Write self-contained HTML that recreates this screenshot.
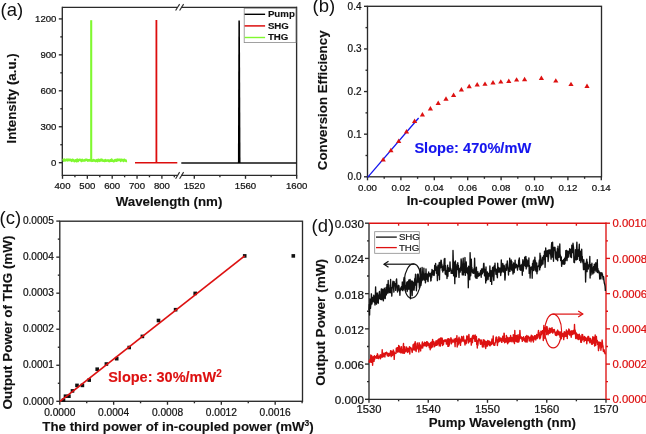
<!DOCTYPE html>
<html><head><meta charset="utf-8"><style>
html,body{margin:0;padding:0;background:#fff;overflow:hidden}
svg{display:block;filter:blur(0.35px)}
text{font-family:"Liberation Sans", sans-serif}
</style></head><body>
<svg width="646" height="434" viewBox="0 0 646 434">
<rect width="646" height="434" fill="#fff"/>
<line x1="62.30" y1="6.70" x2="62.30" y2="175.90" stroke="#2a2a2a" stroke-width="1.35" />
<line x1="296.60" y1="6.70" x2="296.60" y2="175.90" stroke="#2a2a2a" stroke-width="1.35" />
<line x1="62.30" y1="7.30" x2="177.20" y2="7.30" stroke="#2a2a2a" stroke-width="1.35" />
<line x1="181.20" y1="7.30" x2="296.60" y2="7.30" stroke="#2a2a2a" stroke-width="1.35" />
<line x1="62.30" y1="175.30" x2="177.20" y2="175.30" stroke="#2a2a2a" stroke-width="1.35" />
<line x1="181.20" y1="175.30" x2="296.60" y2="175.30" stroke="#2a2a2a" stroke-width="1.35" />
<line x1="175.60" y1="10.50" x2="179.60" y2="4.10" stroke="#2a2a2a" stroke-width="1.1" />
<line x1="175.60" y1="178.70" x2="179.60" y2="172.10" stroke="#2a2a2a" stroke-width="1.1" />
<line x1="179.60" y1="10.50" x2="183.60" y2="4.10" stroke="#2a2a2a" stroke-width="1.1" />
<line x1="179.60" y1="178.70" x2="183.60" y2="172.10" stroke="#2a2a2a" stroke-width="1.1" />
<line x1="58.80" y1="162.70" x2="62.30" y2="162.70" stroke="#2a2a2a" stroke-width="1.35" />
<text x="56.40" y="166.20" font-size="9.6" text-anchor="end" font-weight="normal" fill="#111" stroke="#111" stroke-width="0.22" >0</text>
<line x1="58.80" y1="126.75" x2="62.30" y2="126.75" stroke="#2a2a2a" stroke-width="1.35" />
<text x="56.40" y="130.25" font-size="9.6" text-anchor="end" font-weight="normal" fill="#111" stroke="#111" stroke-width="0.22" >300</text>
<line x1="58.80" y1="90.80" x2="62.30" y2="90.80" stroke="#2a2a2a" stroke-width="1.35" />
<text x="56.40" y="94.30" font-size="9.6" text-anchor="end" font-weight="normal" fill="#111" stroke="#111" stroke-width="0.22" >600</text>
<line x1="58.80" y1="54.85" x2="62.30" y2="54.85" stroke="#2a2a2a" stroke-width="1.35" />
<text x="56.40" y="58.35" font-size="9.6" text-anchor="end" font-weight="normal" fill="#111" stroke="#111" stroke-width="0.22" >900</text>
<line x1="58.80" y1="18.90" x2="62.30" y2="18.90" stroke="#2a2a2a" stroke-width="1.35" />
<text x="56.40" y="22.40" font-size="9.6" text-anchor="end" font-weight="normal" fill="#111" stroke="#111" stroke-width="0.22" >1200</text>
<line x1="60.30" y1="144.72" x2="62.30" y2="144.72" stroke="#2a2a2a" stroke-width="1.35" />
<line x1="60.30" y1="108.77" x2="62.30" y2="108.77" stroke="#2a2a2a" stroke-width="1.35" />
<line x1="60.30" y1="72.82" x2="62.30" y2="72.82" stroke="#2a2a2a" stroke-width="1.35" />
<line x1="60.30" y1="36.87" x2="62.30" y2="36.87" stroke="#2a2a2a" stroke-width="1.35" />
<line x1="62.50" y1="175.30" x2="62.50" y2="178.80" stroke="#2a2a2a" stroke-width="1.35" />
<text x="62.50" y="188.50" font-size="9.6" text-anchor="middle" font-weight="normal" fill="#111" stroke="#111" stroke-width="0.22" >400</text>
<line x1="87.35" y1="175.30" x2="87.35" y2="178.80" stroke="#2a2a2a" stroke-width="1.35" />
<text x="87.35" y="188.50" font-size="9.6" text-anchor="middle" font-weight="normal" fill="#111" stroke="#111" stroke-width="0.22" >500</text>
<line x1="112.20" y1="175.30" x2="112.20" y2="178.80" stroke="#2a2a2a" stroke-width="1.35" />
<text x="112.20" y="188.50" font-size="9.6" text-anchor="middle" font-weight="normal" fill="#111" stroke="#111" stroke-width="0.22" >600</text>
<line x1="137.05" y1="175.30" x2="137.05" y2="178.80" stroke="#2a2a2a" stroke-width="1.35" />
<text x="137.05" y="188.50" font-size="9.6" text-anchor="middle" font-weight="normal" fill="#111" stroke="#111" stroke-width="0.22" >700</text>
<line x1="161.90" y1="175.30" x2="161.90" y2="178.80" stroke="#2a2a2a" stroke-width="1.35" />
<text x="161.90" y="188.50" font-size="9.6" text-anchor="middle" font-weight="normal" fill="#111" stroke="#111" stroke-width="0.22" >800</text>
<line x1="74.92" y1="175.30" x2="74.92" y2="177.30" stroke="#2a2a2a" stroke-width="1.35" />
<line x1="99.78" y1="175.30" x2="99.78" y2="177.30" stroke="#2a2a2a" stroke-width="1.35" />
<line x1="124.62" y1="175.30" x2="124.62" y2="177.30" stroke="#2a2a2a" stroke-width="1.35" />
<line x1="149.47" y1="175.30" x2="149.47" y2="177.30" stroke="#2a2a2a" stroke-width="1.35" />
<line x1="174.32" y1="175.30" x2="174.32" y2="177.30" stroke="#2a2a2a" stroke-width="1.35" />
<line x1="194.30" y1="175.30" x2="194.30" y2="178.80" stroke="#2a2a2a" stroke-width="1.35" />
<text x="194.30" y="188.50" font-size="9.6" text-anchor="middle" font-weight="normal" fill="#111" stroke="#111" stroke-width="0.22" >1520</text>
<line x1="245.50" y1="175.30" x2="245.50" y2="178.80" stroke="#2a2a2a" stroke-width="1.35" />
<text x="245.50" y="188.50" font-size="9.6" text-anchor="middle" font-weight="normal" fill="#111" stroke="#111" stroke-width="0.22" >1560</text>
<line x1="296.70" y1="175.30" x2="296.70" y2="178.80" stroke="#2a2a2a" stroke-width="1.35" />
<text x="296.70" y="188.50" font-size="9.6" text-anchor="middle" font-weight="normal" fill="#111" stroke="#111" stroke-width="0.22" >1600</text>
<line x1="219.90" y1="175.30" x2="219.90" y2="177.30" stroke="#2a2a2a" stroke-width="1.35" />
<line x1="271.10" y1="175.30" x2="271.10" y2="177.30" stroke="#2a2a2a" stroke-width="1.35" />
<polyline points="62.60,160.08 63.30,159.77 64.00,160.67 64.70,159.63 65.40,160.46 66.10,160.16 66.80,159.60 67.50,160.41 68.20,159.57 68.90,160.28 69.60,159.63 70.30,159.66 71.00,160.26 71.70,160.99 72.40,159.72 73.10,159.90 73.80,160.63 74.50,161.21 75.20,160.54 75.90,160.21 76.60,161.26 77.30,159.58 78.00,161.05 78.70,160.02 79.40,159.76 80.10,159.71 80.80,160.06 81.50,160.97 82.20,159.83 82.90,160.55 83.60,160.65 84.30,160.17 85.00,160.49 85.70,159.61 86.40,159.61 87.10,159.87 87.80,160.72 88.50,160.27 89.20,160.07 89.90,160.55 90.60,160.32 91.30,160.04 92.00,160.93 92.70,160.76 93.40,159.94 94.10,160.53 94.80,160.45 95.50,161.08 96.20,160.81 96.90,160.02 97.60,161.26 98.30,159.71 99.00,160.25 99.70,160.86 100.40,159.77 101.10,160.38 101.80,159.57 102.50,160.70 103.20,160.88 103.90,160.53 104.60,161.08 105.30,160.06 106.00,160.75 106.70,160.57 107.40,160.54 108.10,160.32 108.80,161.01 109.50,161.20 110.20,160.35 110.90,160.70 111.60,159.61 112.30,160.76 113.00,160.66 113.70,161.29 114.40,160.98 115.10,160.01 115.80,160.19 116.50,160.70 117.20,159.54 117.90,160.33 118.60,159.80 119.30,159.71 120.00,159.61 120.70,160.88 121.40,159.73 122.10,159.95 122.80,160.20 123.50,161.07 124.20,159.65 124.90,160.31 125.60,160.49 126.30,161.09 127.00,160.97" fill="none" stroke="#80f830" stroke-width="2.4" stroke-linejoin="round" />
<line x1="91.20" y1="160.50" x2="91.20" y2="20.20" stroke="#80f830" stroke-width="2.1" />
<line x1="135.00" y1="162.80" x2="177.30" y2="162.80" stroke="#dc0d0d" stroke-width="1.5" />
<line x1="156.40" y1="162.80" x2="156.40" y2="20.00" stroke="#dc0d0d" stroke-width="1.8" />
<line x1="181.30" y1="163.00" x2="296.50" y2="163.00" stroke="#111" stroke-width="1.5" />
<polygon points="237.9,163 238.4,20.6 239.9,20.6 240.5,163" fill="#000"/>
<rect x="244.2" y="8.3" width="51.7" height="34.3" fill="#fff" stroke="#8a8a8a" stroke-width="0.8"/>
<line x1="244.60" y1="14.30" x2="265.10" y2="14.30" stroke="#000" stroke-width="1.4" />
<line x1="244.60" y1="25.90" x2="265.10" y2="25.90" stroke="#dc0d0d" stroke-width="1.5" />
<line x1="244.60" y1="37.50" x2="265.10" y2="37.50" stroke="#80f830" stroke-width="1.4" />
<text x="267.90" y="17.10" font-size="9.7" text-anchor="start" font-weight="bold" fill="#111" stroke="#111" stroke-width="0.12" >Pump</text>
<text x="267.90" y="28.80" font-size="9.7" text-anchor="start" font-weight="bold" fill="#111" stroke="#111" stroke-width="0.12" >SHG</text>
<text x="267.90" y="40.40" font-size="9.7" text-anchor="start" font-weight="bold" fill="#111" stroke="#111" stroke-width="0.12" >THG</text>
<text transform="translate(11.00,98.40) rotate(-90)" x="0" y="4.66" font-size="13.3" text-anchor="middle" font-weight="bold" fill="#111" stroke="#111" stroke-width="0.12">Intensity (a.u.)</text>
<text x="169.00" y="206.00" font-size="13.3" text-anchor="middle" font-weight="bold" fill="#111" stroke="#111" stroke-width="0.12" >Wavelength (nm)</text>
<text x="0.50" y="15.50" font-size="18.5" text-anchor="start" font-weight="normal" fill="#111" stroke="#111" stroke-width="0" >(a)</text>
<rect x="367.5" y="6.3" width="234.0" height="170.5" fill="none" stroke="#2a2a2a" stroke-width="1.35"/>
<line x1="364.00" y1="176.80" x2="367.50" y2="176.80" stroke="#2a2a2a" stroke-width="1.35" />
<text x="361.50" y="180.30" font-size="10" text-anchor="end" font-weight="normal" fill="#111" stroke="#111" stroke-width="0.22" >0.0</text>
<line x1="364.00" y1="134.18" x2="367.50" y2="134.18" stroke="#2a2a2a" stroke-width="1.35" />
<text x="361.50" y="137.68" font-size="10" text-anchor="end" font-weight="normal" fill="#111" stroke="#111" stroke-width="0.22" >0.1</text>
<line x1="364.00" y1="91.55" x2="367.50" y2="91.55" stroke="#2a2a2a" stroke-width="1.35" />
<text x="361.50" y="95.05" font-size="10" text-anchor="end" font-weight="normal" fill="#111" stroke="#111" stroke-width="0.22" >0.2</text>
<line x1="364.00" y1="48.93" x2="367.50" y2="48.93" stroke="#2a2a2a" stroke-width="1.35" />
<text x="361.50" y="52.43" font-size="10" text-anchor="end" font-weight="normal" fill="#111" stroke="#111" stroke-width="0.22" >0.3</text>
<line x1="364.00" y1="6.30" x2="367.50" y2="6.30" stroke="#2a2a2a" stroke-width="1.35" />
<text x="361.50" y="9.80" font-size="10" text-anchor="end" font-weight="normal" fill="#111" stroke="#111" stroke-width="0.22" >0.4</text>
<line x1="365.50" y1="155.49" x2="367.50" y2="155.49" stroke="#2a2a2a" stroke-width="1.35" />
<line x1="365.50" y1="112.86" x2="367.50" y2="112.86" stroke="#2a2a2a" stroke-width="1.35" />
<line x1="365.50" y1="70.24" x2="367.50" y2="70.24" stroke="#2a2a2a" stroke-width="1.35" />
<line x1="365.50" y1="27.61" x2="367.50" y2="27.61" stroke="#2a2a2a" stroke-width="1.35" />
<line x1="367.50" y1="176.80" x2="367.50" y2="180.30" stroke="#2a2a2a" stroke-width="1.35" />
<text x="367.50" y="191.00" font-size="9.7" text-anchor="middle" font-weight="normal" fill="#111" stroke="#111" stroke-width="0.22" >0.00</text>
<line x1="400.90" y1="176.80" x2="400.90" y2="180.30" stroke="#2a2a2a" stroke-width="1.35" />
<text x="400.90" y="191.00" font-size="9.7" text-anchor="middle" font-weight="normal" fill="#111" stroke="#111" stroke-width="0.22" >0.02</text>
<line x1="434.30" y1="176.80" x2="434.30" y2="180.30" stroke="#2a2a2a" stroke-width="1.35" />
<text x="434.30" y="191.00" font-size="9.7" text-anchor="middle" font-weight="normal" fill="#111" stroke="#111" stroke-width="0.22" >0.04</text>
<line x1="467.70" y1="176.80" x2="467.70" y2="180.30" stroke="#2a2a2a" stroke-width="1.35" />
<text x="467.70" y="191.00" font-size="9.7" text-anchor="middle" font-weight="normal" fill="#111" stroke="#111" stroke-width="0.22" >0.06</text>
<line x1="501.10" y1="176.80" x2="501.10" y2="180.30" stroke="#2a2a2a" stroke-width="1.35" />
<text x="501.10" y="191.00" font-size="9.7" text-anchor="middle" font-weight="normal" fill="#111" stroke="#111" stroke-width="0.22" >0.08</text>
<line x1="534.50" y1="176.80" x2="534.50" y2="180.30" stroke="#2a2a2a" stroke-width="1.35" />
<text x="534.50" y="191.00" font-size="9.7" text-anchor="middle" font-weight="normal" fill="#111" stroke="#111" stroke-width="0.22" >0.10</text>
<line x1="567.90" y1="176.80" x2="567.90" y2="180.30" stroke="#2a2a2a" stroke-width="1.35" />
<text x="567.90" y="191.00" font-size="9.7" text-anchor="middle" font-weight="normal" fill="#111" stroke="#111" stroke-width="0.22" >0.12</text>
<line x1="601.30" y1="176.80" x2="601.30" y2="180.30" stroke="#2a2a2a" stroke-width="1.35" />
<text x="601.30" y="191.00" font-size="9.7" text-anchor="middle" font-weight="normal" fill="#111" stroke="#111" stroke-width="0.22" >0.14</text>
<line x1="384.20" y1="176.80" x2="384.20" y2="178.80" stroke="#2a2a2a" stroke-width="1.35" />
<line x1="417.60" y1="176.80" x2="417.60" y2="178.80" stroke="#2a2a2a" stroke-width="1.35" />
<line x1="451.00" y1="176.80" x2="451.00" y2="178.80" stroke="#2a2a2a" stroke-width="1.35" />
<line x1="484.40" y1="176.80" x2="484.40" y2="178.80" stroke="#2a2a2a" stroke-width="1.35" />
<line x1="517.80" y1="176.80" x2="517.80" y2="178.80" stroke="#2a2a2a" stroke-width="1.35" />
<line x1="551.20" y1="176.80" x2="551.20" y2="178.80" stroke="#2a2a2a" stroke-width="1.35" />
<line x1="584.60" y1="176.80" x2="584.60" y2="178.80" stroke="#2a2a2a" stroke-width="1.35" />
<line x1="367.60" y1="177.40" x2="418.60" y2="118.00" stroke="#1515ee" stroke-width="1.3" />
<polygon points="380.60,161.40 385.80,161.40 383.20,157.00" fill="#dd1111"/>
<polygon points="388.30,152.20 393.50,152.20 390.90,147.80" fill="#dd1111"/>
<polygon points="396.10,142.90 401.30,142.90 398.70,138.50" fill="#dd1111"/>
<polygon points="403.90,133.40 409.10,133.40 406.50,129.00" fill="#dd1111"/>
<polygon points="412.00,123.00 417.20,123.00 414.60,118.60" fill="#dd1111"/>
<polygon points="419.80,116.50 425.00,116.50 422.40,112.10" fill="#dd1111"/>
<polygon points="427.80,110.50 433.00,110.50 430.40,106.10" fill="#dd1111"/>
<polygon points="435.60,105.00 440.80,105.00 438.20,100.60" fill="#dd1111"/>
<polygon points="443.40,100.70 448.60,100.70 446.00,96.30" fill="#dd1111"/>
<polygon points="451.00,97.00 456.20,97.00 453.60,92.60" fill="#dd1111"/>
<polygon points="458.80,91.40 464.00,91.40 461.40,87.00" fill="#dd1111"/>
<polygon points="466.60,88.20 471.80,88.20 469.20,83.80" fill="#dd1111"/>
<polygon points="474.60,86.40 479.80,86.40 477.20,82.00" fill="#dd1111"/>
<polygon points="482.40,85.80 487.60,85.80 485.00,81.40" fill="#dd1111"/>
<polygon points="490.40,84.50 495.60,84.50 493.00,80.10" fill="#dd1111"/>
<polygon points="498.20,83.60 503.40,83.60 500.80,79.20" fill="#dd1111"/>
<polygon points="506.20,83.00 511.40,83.00 508.80,78.60" fill="#dd1111"/>
<polygon points="514.00,81.60 519.20,81.60 516.60,77.20" fill="#dd1111"/>
<polygon points="522.00,81.20 527.20,81.20 524.60,76.80" fill="#dd1111"/>
<polygon points="538.80,80.00 544.00,80.00 541.40,75.60" fill="#dd1111"/>
<polygon points="553.20,82.60 558.40,82.60 555.80,78.20" fill="#dd1111"/>
<polygon points="568.40,86.10 573.60,86.10 571.00,81.70" fill="#dd1111"/>
<polygon points="584.40,88.00 589.60,88.00 587.00,83.60" fill="#dd1111"/>
<text x="414.40" y="153.40" font-size="14.6" text-anchor="start" font-weight="bold" fill="#1515ee" stroke="#1515ee" stroke-width="0.12" >Slope: 470%/mW</text>
<text transform="translate(322.60,100.30) rotate(-90)" x="0" y="4.66" font-size="13.3" text-anchor="middle" font-weight="bold" fill="#111" stroke="#111" stroke-width="0.12">Conversion Efficiency</text>
<text x="480.50" y="204.60" font-size="13.3" text-anchor="middle" font-weight="bold" fill="#111" stroke="#111" stroke-width="0.12" >In-coupled Power (mW)</text>
<text x="312.60" y="11.90" font-size="18.5" text-anchor="start" font-weight="normal" fill="#111" stroke="#111" stroke-width="0" >(b)</text>
<rect x="59.8" y="221.2" width="242.7" height="180.10000000000002" fill="none" stroke="#2a2a2a" stroke-width="1.35"/>
<line x1="56.30" y1="401.30" x2="59.80" y2="401.30" stroke="#2a2a2a" stroke-width="1.35" />
<text x="53.80" y="404.50" font-size="10.1" text-anchor="end" font-weight="normal" fill="#111" stroke="#111" stroke-width="0.22" >0.0000</text>
<line x1="56.30" y1="365.26" x2="59.80" y2="365.26" stroke="#2a2a2a" stroke-width="1.35" />
<text x="53.80" y="368.46" font-size="10.1" text-anchor="end" font-weight="normal" fill="#111" stroke="#111" stroke-width="0.22" >0.0001</text>
<line x1="56.30" y1="329.22" x2="59.80" y2="329.22" stroke="#2a2a2a" stroke-width="1.35" />
<text x="53.80" y="332.42" font-size="10.1" text-anchor="end" font-weight="normal" fill="#111" stroke="#111" stroke-width="0.22" >0.0002</text>
<line x1="56.30" y1="293.18" x2="59.80" y2="293.18" stroke="#2a2a2a" stroke-width="1.35" />
<text x="53.80" y="296.38" font-size="10.1" text-anchor="end" font-weight="normal" fill="#111" stroke="#111" stroke-width="0.22" >0.0003</text>
<line x1="56.30" y1="257.14" x2="59.80" y2="257.14" stroke="#2a2a2a" stroke-width="1.35" />
<text x="53.80" y="260.34" font-size="10.1" text-anchor="end" font-weight="normal" fill="#111" stroke="#111" stroke-width="0.22" >0.0004</text>
<line x1="56.30" y1="221.10" x2="59.80" y2="221.10" stroke="#2a2a2a" stroke-width="1.35" />
<text x="53.80" y="224.30" font-size="10.1" text-anchor="end" font-weight="normal" fill="#111" stroke="#111" stroke-width="0.22" >0.0005</text>
<line x1="57.80" y1="383.28" x2="59.80" y2="383.28" stroke="#2a2a2a" stroke-width="1.35" />
<line x1="57.80" y1="347.24" x2="59.80" y2="347.24" stroke="#2a2a2a" stroke-width="1.35" />
<line x1="57.80" y1="311.20" x2="59.80" y2="311.20" stroke="#2a2a2a" stroke-width="1.35" />
<line x1="57.80" y1="275.16" x2="59.80" y2="275.16" stroke="#2a2a2a" stroke-width="1.35" />
<line x1="57.80" y1="239.12" x2="59.80" y2="239.12" stroke="#2a2a2a" stroke-width="1.35" />
<line x1="59.80" y1="401.30" x2="59.80" y2="404.80" stroke="#2a2a2a" stroke-width="1.35" />
<text x="59.80" y="415.90" font-size="10.2" text-anchor="middle" font-weight="normal" fill="#111" stroke="#111" stroke-width="0.22" >0.0000</text>
<line x1="113.64" y1="401.30" x2="113.64" y2="404.80" stroke="#2a2a2a" stroke-width="1.35" />
<text x="113.64" y="415.90" font-size="10.2" text-anchor="middle" font-weight="normal" fill="#111" stroke="#111" stroke-width="0.22" >0.0004</text>
<line x1="167.49" y1="401.30" x2="167.49" y2="404.80" stroke="#2a2a2a" stroke-width="1.35" />
<text x="167.49" y="415.90" font-size="10.2" text-anchor="middle" font-weight="normal" fill="#111" stroke="#111" stroke-width="0.22" >0.0008</text>
<line x1="221.33" y1="401.30" x2="221.33" y2="404.80" stroke="#2a2a2a" stroke-width="1.35" />
<text x="221.33" y="415.90" font-size="10.2" text-anchor="middle" font-weight="normal" fill="#111" stroke="#111" stroke-width="0.22" >0.0012</text>
<line x1="275.18" y1="401.30" x2="275.18" y2="404.80" stroke="#2a2a2a" stroke-width="1.35" />
<text x="275.18" y="415.90" font-size="10.2" text-anchor="middle" font-weight="normal" fill="#111" stroke="#111" stroke-width="0.22" >0.0016</text>
<line x1="86.72" y1="401.30" x2="86.72" y2="403.30" stroke="#2a2a2a" stroke-width="1.35" />
<line x1="140.57" y1="401.30" x2="140.57" y2="403.30" stroke="#2a2a2a" stroke-width="1.35" />
<line x1="194.41" y1="401.30" x2="194.41" y2="403.30" stroke="#2a2a2a" stroke-width="1.35" />
<line x1="248.26" y1="401.30" x2="248.26" y2="403.30" stroke="#2a2a2a" stroke-width="1.35" />
<line x1="302.10" y1="401.30" x2="302.10" y2="403.30" stroke="#2a2a2a" stroke-width="1.35" />
<rect x="61.70" y="398.40" width="3.6" height="3.6" fill="#111"/>
<rect x="63.70" y="394.40" width="3.6" height="3.6" fill="#111"/>
<rect x="67.10" y="394.40" width="3.6" height="3.6" fill="#111"/>
<rect x="70.70" y="389.10" width="3.6" height="3.6" fill="#111"/>
<rect x="75.20" y="383.60" width="3.6" height="3.6" fill="#111"/>
<rect x="80.60" y="383.60" width="3.6" height="3.6" fill="#111"/>
<rect x="87.40" y="378.30" width="3.6" height="3.6" fill="#111"/>
<rect x="95.40" y="367.40" width="3.6" height="3.6" fill="#111"/>
<rect x="104.60" y="362.20" width="3.6" height="3.6" fill="#111"/>
<rect x="114.90" y="356.90" width="3.6" height="3.6" fill="#111"/>
<rect x="127.40" y="345.70" width="3.6" height="3.6" fill="#111"/>
<rect x="140.60" y="334.60" width="3.6" height="3.6" fill="#111"/>
<rect x="156.70" y="318.70" width="3.6" height="3.6" fill="#111"/>
<rect x="173.80" y="307.90" width="3.6" height="3.6" fill="#111"/>
<rect x="193.40" y="291.60" width="3.6" height="3.6" fill="#111"/>
<rect x="242.90" y="254.10" width="3.6" height="3.6" fill="#111"/>
<rect x="291.50" y="254.10" width="3.6" height="3.6" fill="#111"/>
<line x1="60.00" y1="401.30" x2="244.70" y2="255.90" stroke="#dd1111" stroke-width="1.7" />
<text x="108.20" y="382.30" font-size="14.5" text-anchor="start" font-weight="bold" fill="#dd1111" stroke="#dd1111" stroke-width="0.12" >Slope: 30%/mW<tspan font-size="10" dy="-5.2">2</tspan></text>
<text transform="translate(7.60,322.50) rotate(-90)" x="0" y="4.71" font-size="13.45" text-anchor="middle" font-weight="bold" fill="#111" stroke="#111" stroke-width="0.12">Output Power of THG (mW)</text>
<text x="178.00" y="431.00" font-size="13.3" text-anchor="middle" font-weight="bold" fill="#111" stroke="#111" stroke-width="0.12" >The third power of in-coupled power (mW<tspan font-size="8.5" dy="-5">3</tspan><tspan dy="5">)</tspan></text>
<text x="-0.40" y="224.00" font-size="18.5" text-anchor="start" font-weight="normal" fill="#111" stroke="#111" stroke-width="0" >(c)</text>
<line x1="369.00" y1="223.20" x2="369.00" y2="399.90" stroke="#2a2a2a" stroke-width="1.35" />
<line x1="368.40" y1="399.30" x2="606.00" y2="399.30" stroke="#2a2a2a" stroke-width="1.35" />
<line x1="369.00" y1="223.20" x2="606.00" y2="223.20" stroke="#dd1111" stroke-width="1.35" />
<line x1="606.00" y1="222.60" x2="606.00" y2="399.30" stroke="#dd1111" stroke-width="1.35" />
<line x1="365.00" y1="399.30" x2="369.00" y2="399.30" stroke="#2a2a2a" stroke-width="1.35" />
<text x="364.00" y="404.20" font-size="11.7" text-anchor="end" font-weight="normal" fill="#111" stroke="#111" stroke-width="0.22" >0.000</text>
<line x1="365.00" y1="364.08" x2="369.00" y2="364.08" stroke="#2a2a2a" stroke-width="1.35" />
<text x="364.00" y="368.98" font-size="11.7" text-anchor="end" font-weight="normal" fill="#111" stroke="#111" stroke-width="0.22" >0.006</text>
<line x1="365.00" y1="328.86" x2="369.00" y2="328.86" stroke="#2a2a2a" stroke-width="1.35" />
<text x="364.00" y="333.76" font-size="11.7" text-anchor="end" font-weight="normal" fill="#111" stroke="#111" stroke-width="0.22" >0.012</text>
<line x1="365.00" y1="293.64" x2="369.00" y2="293.64" stroke="#2a2a2a" stroke-width="1.35" />
<text x="364.00" y="298.54" font-size="11.7" text-anchor="end" font-weight="normal" fill="#111" stroke="#111" stroke-width="0.22" >0.018</text>
<line x1="365.00" y1="258.42" x2="369.00" y2="258.42" stroke="#2a2a2a" stroke-width="1.35" />
<text x="364.00" y="263.32" font-size="11.7" text-anchor="end" font-weight="normal" fill="#111" stroke="#111" stroke-width="0.22" >0.024</text>
<line x1="365.00" y1="223.20" x2="369.00" y2="223.20" stroke="#2a2a2a" stroke-width="1.35" />
<text x="364.00" y="228.10" font-size="11.7" text-anchor="end" font-weight="normal" fill="#111" stroke="#111" stroke-width="0.22" >0.030</text>
<line x1="367.00" y1="381.69" x2="369.00" y2="381.69" stroke="#2a2a2a" stroke-width="1.35" />
<line x1="367.00" y1="346.47" x2="369.00" y2="346.47" stroke="#2a2a2a" stroke-width="1.35" />
<line x1="367.00" y1="311.25" x2="369.00" y2="311.25" stroke="#2a2a2a" stroke-width="1.35" />
<line x1="367.00" y1="276.03" x2="369.00" y2="276.03" stroke="#2a2a2a" stroke-width="1.35" />
<line x1="367.00" y1="240.81" x2="369.00" y2="240.81" stroke="#2a2a2a" stroke-width="1.35" />
<line x1="606.00" y1="399.30" x2="610.00" y2="399.30" stroke="#dd1111" stroke-width="1.35" />
<text x="612.50" y="403.40" font-size="11.3" text-anchor="start" font-weight="normal" fill="#dd1111" stroke="#dd1111" stroke-width="0.22" >0.0000</text>
<line x1="606.00" y1="364.08" x2="610.00" y2="364.08" stroke="#dd1111" stroke-width="1.35" />
<text x="612.50" y="368.18" font-size="11.3" text-anchor="start" font-weight="normal" fill="#dd1111" stroke="#dd1111" stroke-width="0.22" >0.0002</text>
<line x1="606.00" y1="328.86" x2="610.00" y2="328.86" stroke="#dd1111" stroke-width="1.35" />
<text x="612.50" y="332.96" font-size="11.3" text-anchor="start" font-weight="normal" fill="#dd1111" stroke="#dd1111" stroke-width="0.22" >0.0004</text>
<line x1="606.00" y1="293.64" x2="610.00" y2="293.64" stroke="#dd1111" stroke-width="1.35" />
<text x="612.50" y="297.74" font-size="11.3" text-anchor="start" font-weight="normal" fill="#dd1111" stroke="#dd1111" stroke-width="0.22" >0.0006</text>
<line x1="606.00" y1="258.42" x2="610.00" y2="258.42" stroke="#dd1111" stroke-width="1.35" />
<text x="612.50" y="262.52" font-size="11.3" text-anchor="start" font-weight="normal" fill="#dd1111" stroke="#dd1111" stroke-width="0.22" >0.0008</text>
<line x1="606.00" y1="223.20" x2="610.00" y2="223.20" stroke="#dd1111" stroke-width="1.35" />
<text x="612.50" y="227.30" font-size="11.3" text-anchor="start" font-weight="normal" fill="#dd1111" stroke="#dd1111" stroke-width="0.22" >0.0010</text>
<line x1="606.00" y1="381.69" x2="608.00" y2="381.69" stroke="#dd1111" stroke-width="1.35" />
<line x1="606.00" y1="346.47" x2="608.00" y2="346.47" stroke="#dd1111" stroke-width="1.35" />
<line x1="606.00" y1="311.25" x2="608.00" y2="311.25" stroke="#dd1111" stroke-width="1.35" />
<line x1="606.00" y1="276.03" x2="608.00" y2="276.03" stroke="#dd1111" stroke-width="1.35" />
<line x1="606.00" y1="240.81" x2="608.00" y2="240.81" stroke="#dd1111" stroke-width="1.35" />
<line x1="369.00" y1="399.30" x2="369.00" y2="402.80" stroke="#2a2a2a" stroke-width="1.35" />
<text x="369.00" y="412.80" font-size="11.2" text-anchor="middle" font-weight="normal" fill="#111" stroke="#111" stroke-width="0.22" >1530</text>
<line x1="428.25" y1="399.30" x2="428.25" y2="402.80" stroke="#2a2a2a" stroke-width="1.35" />
<text x="428.25" y="412.80" font-size="11.2" text-anchor="middle" font-weight="normal" fill="#111" stroke="#111" stroke-width="0.22" >1540</text>
<line x1="487.50" y1="399.30" x2="487.50" y2="402.80" stroke="#2a2a2a" stroke-width="1.35" />
<text x="487.50" y="412.80" font-size="11.2" text-anchor="middle" font-weight="normal" fill="#111" stroke="#111" stroke-width="0.22" >1550</text>
<line x1="546.75" y1="399.30" x2="546.75" y2="402.80" stroke="#2a2a2a" stroke-width="1.35" />
<text x="546.75" y="412.80" font-size="11.2" text-anchor="middle" font-weight="normal" fill="#111" stroke="#111" stroke-width="0.22" >1560</text>
<line x1="606.00" y1="399.30" x2="606.00" y2="402.80" stroke="#2a2a2a" stroke-width="1.35" />
<text x="606.00" y="412.80" font-size="11.2" text-anchor="middle" font-weight="normal" fill="#111" stroke="#111" stroke-width="0.22" >1570</text>
<line x1="398.62" y1="399.30" x2="398.62" y2="401.30" stroke="#2a2a2a" stroke-width="1.35" />
<line x1="457.88" y1="399.30" x2="457.88" y2="401.30" stroke="#2a2a2a" stroke-width="1.35" />
<line x1="517.12" y1="399.30" x2="517.12" y2="401.30" stroke="#2a2a2a" stroke-width="1.35" />
<line x1="576.38" y1="399.30" x2="576.38" y2="401.30" stroke="#2a2a2a" stroke-width="1.35" />
<line x1="398.62" y1="223.20" x2="398.62" y2="225.70" stroke="#dd1111" stroke-width="1.35" />
<line x1="428.25" y1="223.20" x2="428.25" y2="225.70" stroke="#dd1111" stroke-width="1.35" />
<line x1="457.88" y1="223.20" x2="457.88" y2="225.70" stroke="#dd1111" stroke-width="1.35" />
<line x1="487.50" y1="223.20" x2="487.50" y2="225.70" stroke="#dd1111" stroke-width="1.35" />
<line x1="517.12" y1="223.20" x2="517.12" y2="225.70" stroke="#dd1111" stroke-width="1.35" />
<line x1="546.75" y1="223.20" x2="546.75" y2="225.70" stroke="#dd1111" stroke-width="1.35" />
<line x1="576.38" y1="223.20" x2="576.38" y2="225.70" stroke="#dd1111" stroke-width="1.35" />
<polyline points="369.00,310.03 369.30,304.53 369.60,314.98 369.90,298.86 370.20,306.09 370.50,308.42 370.80,304.71 371.10,304.64 371.40,293.80 371.70,298.85 372.00,303.87 372.30,297.82 372.60,297.36 372.90,301.80 373.20,298.82 373.50,301.07 373.80,295.12 374.10,297.68 374.40,302.43 374.70,300.80 375.00,305.06 375.30,297.47 375.60,286.82 375.90,299.64 376.20,303.05 376.50,304.10 376.80,296.25 377.10,292.99 377.40,293.40 377.70,302.69 378.00,302.07 378.30,303.19 378.60,295.04 378.90,299.23 379.20,292.48 379.50,291.49 379.80,296.80 380.10,298.39 380.40,296.54 380.70,299.45 381.00,295.44 381.30,289.01 381.60,288.98 381.90,299.71 382.20,294.48 382.50,292.04 382.80,289.30 383.10,295.88 383.40,300.84 383.70,290.94 384.00,291.58 384.30,288.16 384.60,292.59 384.90,298.37 385.20,298.61 385.50,294.93 385.80,289.24 386.10,287.38 386.40,294.93 386.70,290.05 387.00,284.42 387.30,285.03 387.60,285.21 387.90,293.27 388.20,280.41 388.50,292.07 388.80,288.34 389.10,291.95 389.40,287.92 389.70,292.67 390.00,285.04 390.30,291.91 390.60,279.45 390.90,292.83 391.20,287.33 391.50,288.09 391.80,296.14 392.10,288.49 392.40,287.47 392.70,282.84 393.00,281.19 393.30,285.84 393.60,288.55 393.90,292.10 394.20,281.72 394.50,285.83 394.80,284.72 395.10,285.34 395.40,283.58 395.70,290.40 396.00,285.95 396.30,280.20 396.60,278.92 396.90,284.86 397.20,285.98 397.50,291.95 397.80,287.91 398.10,290.75 398.40,285.99 398.70,285.28 399.00,286.23 399.30,290.00 399.60,289.65 399.90,295.29 400.20,288.93 400.50,290.41 400.80,287.65 401.10,288.71 401.40,286.67 401.70,287.94 402.00,289.90 402.30,281.94 402.60,290.62 402.90,290.61 403.20,286.92 403.50,289.35 403.80,279.94 404.10,277.46 404.40,286.83 404.70,278.03 405.00,282.88 405.30,290.37 405.60,289.14 405.90,289.14 406.20,285.78 406.50,286.04 406.80,282.17 407.10,291.64 407.40,290.57 407.70,281.65 408.00,284.66 408.30,289.28 408.60,281.39 408.90,279.82 409.20,283.29 409.50,287.21 409.80,289.55 410.10,279.46 410.40,298.71 410.70,291.59 411.00,282.44 411.30,280.97 411.60,281.58 411.90,284.69 412.20,295.46 412.50,281.11 412.80,287.53 413.10,287.35 413.40,282.50 413.70,289.89 414.00,290.31 414.30,287.78 414.60,280.39 414.90,278.24 415.20,281.22 415.50,274.22 415.80,285.46 416.10,282.65 416.40,290.84 416.70,284.98 417.00,281.81 417.30,274.54 417.60,274.11 417.90,282.10 418.20,274.10 418.50,277.24 418.80,281.87 419.10,282.62 419.40,287.94 419.70,286.24 420.00,276.26 420.30,268.24 420.60,275.07 420.90,285.47 421.20,283.20 421.50,281.47 421.80,278.94 422.10,267.53 422.40,272.69 422.70,279.98 423.00,277.80 423.30,277.32 423.60,278.34 423.90,268.12 424.20,280.08 424.50,277.55 424.80,276.77 425.10,274.00 425.40,282.84 425.70,280.94 426.00,269.01 426.30,278.76 426.60,276.13 426.90,279.28 427.20,273.96 427.50,274.68 427.80,281.15 428.10,281.50 428.40,274.35 428.70,272.01 429.00,275.24 429.30,274.73 429.60,273.69 429.90,276.57 430.20,274.21 430.50,273.66 430.80,281.00 431.10,280.36 431.40,272.23 431.70,277.20 432.00,269.36 432.30,270.48 432.60,274.43 432.90,272.90 433.20,275.16 433.50,270.58 433.80,273.27 434.10,275.45 434.40,273.66 434.70,265.35 435.00,270.47 435.30,268.56 435.60,263.42 435.90,267.44 436.20,269.42 436.50,273.20 436.80,266.98 437.10,271.29 437.40,280.65 437.70,273.40 438.00,265.19 438.30,275.12 438.60,268.58 438.90,271.00 439.20,262.65 439.50,279.68 439.80,267.59 440.10,264.62 440.40,261.94 440.70,267.81 441.00,260.15 441.30,260.50 441.60,265.05 441.90,264.24 442.20,270.26 442.50,267.60 442.80,271.98 443.10,266.13 443.40,268.24 443.70,270.38 444.00,263.98 444.30,258.83 444.60,268.88 444.90,258.48 445.20,274.06 445.50,265.46 445.80,268.45 446.10,274.78 446.40,273.38 446.70,270.83 447.00,278.51 447.30,274.43 447.60,265.15 447.90,276.26 448.20,267.54 448.50,268.26 448.80,271.30 449.10,269.57 449.40,271.36 449.70,270.15 450.00,261.83 450.30,268.92 450.60,268.21 450.90,268.94 451.20,273.33 451.50,270.76 451.80,270.35 452.10,273.27 452.40,273.42 452.70,272.56 453.00,250.44 453.30,260.72 453.60,275.84 453.90,269.81 454.20,262.21 454.50,270.69 454.80,283.62 455.10,265.87 455.40,261.01 455.70,269.50 456.00,276.86 456.30,276.73 456.60,272.33 456.90,266.40 457.20,264.18 457.50,267.57 457.80,262.68 458.10,269.82 458.40,265.31 458.70,271.25 459.00,277.35 459.30,269.97 459.60,270.13 459.90,268.51 460.20,272.18 460.50,267.21 460.80,268.03 461.10,258.92 461.40,261.50 461.70,270.57 462.00,269.88 462.30,274.92 462.60,269.83 462.90,263.03 463.20,258.07 463.50,274.87 463.80,263.69 464.10,272.54 464.40,271.53 464.70,267.97 465.00,257.55 465.30,275.38 465.60,272.43 465.90,272.79 466.20,261.82 466.50,267.38 466.80,268.25 467.10,272.67 467.40,268.95 467.70,274.00 468.00,267.42 468.30,287.70 468.60,266.15 468.90,269.21 469.20,271.42 469.50,269.28 469.80,279.84 470.10,252.57 470.40,263.33 470.70,275.82 471.00,271.34 471.30,259.06 471.60,267.29 471.90,267.44 472.20,270.54 472.50,272.83 472.80,269.85 473.10,270.39 473.40,271.35 473.70,273.43 474.00,268.50 474.30,269.64 474.60,258.24 474.90,268.35 475.20,276.90 475.50,276.06 475.80,278.02 476.10,271.51 476.40,267.28 476.70,273.68 477.00,278.43 477.30,272.81 477.60,276.65 477.90,271.71 478.20,276.49 478.50,274.63 478.80,273.65 479.10,274.41 479.40,275.61 479.70,274.96 480.00,272.57 480.30,274.08 480.60,270.56 480.90,272.26 481.20,277.24 481.50,268.81 481.80,273.07 482.10,269.38 482.40,273.78 482.70,270.02 483.00,268.21 483.30,272.05 483.60,263.75 483.90,263.32 484.20,268.89 484.50,275.75 484.80,270.44 485.10,269.67 485.40,269.24 485.70,282.95 486.00,267.03 486.30,274.83 486.60,280.66 486.90,275.28 487.20,272.22 487.50,271.89 487.80,277.50 488.10,279.48 488.40,274.65 488.70,273.33 489.00,274.90 489.30,274.61 489.60,276.08 489.90,265.92 490.20,274.71 490.50,281.43 490.80,270.56 491.10,278.73 491.40,272.88 491.70,284.42 492.00,270.52 492.30,270.66 492.60,267.55 492.90,276.14 493.20,266.88 493.50,277.79 493.80,280.51 494.10,274.71 494.40,265.31 494.70,270.95 495.00,263.28 495.30,269.68 495.60,268.49 495.90,274.34 496.20,274.02 496.50,272.69 496.80,269.48 497.10,275.96 497.40,277.70 497.70,263.29 498.00,270.47 498.30,267.29 498.60,271.78 498.90,272.23 499.20,270.36 499.50,269.97 499.80,267.85 500.10,272.13 500.40,271.34 500.70,275.46 501.00,272.56 501.30,259.87 501.60,270.37 501.90,272.05 502.20,264.15 502.50,266.56 502.80,263.39 503.10,269.43 503.40,271.72 503.70,272.01 504.00,265.17 504.30,265.92 504.60,270.91 504.90,280.10 505.20,277.60 505.50,269.43 505.80,268.81 506.10,264.21 506.40,269.14 506.70,270.20 507.00,266.07 507.30,260.91 507.60,264.44 507.90,267.30 508.20,268.22 508.50,275.08 508.80,269.33 509.10,268.21 509.40,268.30 509.70,258.06 510.00,271.42 510.30,265.78 510.60,263.77 510.90,263.34 511.20,259.94 511.50,269.72 511.80,261.50 512.10,270.65 512.40,264.58 512.70,266.62 513.00,274.05 513.30,270.42 513.60,262.96 513.90,267.34 514.20,272.54 514.50,265.70 514.80,267.40 515.10,260.13 515.40,267.30 515.70,267.99 516.00,266.84 516.30,264.82 516.60,264.29 516.90,266.86 517.20,265.34 517.50,270.18 517.80,267.52 518.10,265.59 518.40,266.81 518.70,260.07 519.00,259.94 519.30,258.02 519.60,262.68 519.90,269.69 520.20,268.41 520.50,265.37 520.80,270.34 521.10,265.26 521.40,267.07 521.70,269.62 522.00,264.09 522.30,275.22 522.60,262.96 522.90,259.56 523.20,271.13 523.50,268.02 523.80,261.28 524.10,261.06 524.40,265.36 524.70,257.11 525.00,258.73 525.30,266.31 525.60,256.90 525.90,256.56 526.20,268.86 526.50,259.11 526.80,259.56 527.10,266.79 527.40,264.00 527.70,262.32 528.00,261.42 528.30,260.55 528.60,266.30 528.90,258.02 529.20,273.42 529.50,265.53 529.80,267.80 530.10,277.99 530.40,269.88 530.70,267.35 531.00,268.89 531.30,269.36 531.60,266.92 531.90,269.23 532.20,278.20 532.50,263.70 532.80,263.54 533.10,263.12 533.40,260.67 533.70,270.63 534.00,259.91 534.30,263.07 534.60,264.68 534.90,257.23 535.20,270.04 535.50,260.65 535.80,268.69 536.10,271.48 536.40,265.07 536.70,263.00 537.00,273.84 537.30,265.97 537.60,271.11 537.90,266.16 538.20,266.63 538.50,265.77 538.80,266.20 539.10,262.22 539.40,259.93 539.70,269.91 540.00,253.15 540.30,267.61 540.60,255.78 540.90,265.97 541.20,260.08 541.50,261.88 541.80,264.97 542.10,260.48 542.40,257.73 542.70,262.16 543.00,264.00 543.30,256.61 543.60,255.82 543.90,259.69 544.20,259.66 544.50,251.17 544.80,258.28 545.10,267.38 545.40,259.16 545.70,248.01 546.00,252.79 546.30,253.88 546.60,256.20 546.90,250.95 547.20,256.61 547.50,254.21 547.80,250.37 548.10,261.48 548.40,258.44 548.70,255.94 549.00,249.75 549.30,251.47 549.60,253.53 549.90,252.93 550.20,249.94 550.50,253.37 550.80,255.76 551.10,259.16 551.40,246.44 551.70,242.79 552.00,253.02 552.30,257.12 552.60,242.20 552.90,253.97 553.20,250.69 553.50,261.28 553.80,249.25 554.10,247.13 554.40,250.29 554.70,248.20 555.00,247.35 555.30,251.35 555.60,258.16 555.90,251.80 556.20,259.56 556.50,258.02 556.80,253.49 557.10,252.12 557.40,248.45 557.70,260.75 558.00,246.12 558.30,252.62 558.60,249.21 558.90,257.22 559.20,257.15 559.50,251.55 559.80,244.01 560.10,255.92 560.40,254.98 560.70,260.66 561.00,259.37 561.30,256.97 561.60,266.35 561.90,260.93 562.20,263.46 562.50,260.61 562.80,262.73 563.10,264.07 563.40,259.96 563.70,259.56 564.00,261.99 564.30,264.33 564.60,258.39 564.90,263.69 565.20,257.07 565.50,260.54 565.80,250.67 566.10,250.48 566.40,256.19 566.70,250.52 567.00,260.69 567.30,256.92 567.60,252.39 567.90,251.17 568.20,257.21 568.50,254.93 568.80,251.48 569.10,251.85 569.40,253.09 569.70,248.67 570.00,250.26 570.30,256.91 570.60,255.09 570.90,249.52 571.20,256.15 571.50,257.55 571.80,245.25 572.10,251.97 572.40,247.12 572.70,252.47 573.00,243.26 573.30,245.80 573.60,248.08 573.90,262.33 574.20,258.36 574.50,262.64 574.80,256.90 575.10,259.72 575.40,249.73 575.70,254.37 576.00,252.46 576.30,259.89 576.60,246.93 576.90,242.16 577.20,252.96 577.50,259.24 577.80,252.78 578.10,249.94 578.40,255.62 578.70,256.18 579.00,249.26 579.30,244.20 579.60,260.56 579.90,252.72 580.20,259.57 580.50,251.22 580.80,262.55 581.10,260.85 581.40,258.75 581.70,249.28 582.00,258.05 582.30,256.53 582.60,261.75 582.90,262.50 583.20,263.79 583.50,269.67 583.80,259.69 584.10,264.70 584.40,267.11 584.70,269.46 585.00,263.50 585.30,265.79 585.60,281.97 585.90,271.61 586.20,262.19 586.50,261.61 586.80,259.27 587.10,271.65 587.40,261.83 587.70,264.80 588.00,266.71 588.30,268.99 588.60,265.17 588.90,265.46 589.20,264.38 589.50,266.68 589.80,256.47 590.10,278.10 590.40,266.15 590.70,264.78 591.00,274.98 591.30,271.90 591.60,269.08 591.90,263.17 592.20,271.53 592.50,267.67 592.80,274.00 593.10,268.85 593.40,268.08 593.70,266.46 594.00,272.74 594.30,264.14 594.60,266.70 594.90,264.53 595.20,270.18 595.50,270.15 595.80,262.72 596.10,271.78 596.40,267.48 596.70,265.16 597.00,266.96 597.30,259.66 597.60,272.52 597.90,268.51 598.20,271.34 598.50,271.29 598.80,270.85 599.10,273.47 599.40,272.11 599.70,279.07 600.00,272.53 600.30,274.75 600.60,273.00 600.90,278.92 601.20,273.36 601.50,273.74 601.80,272.63 602.10,275.01 602.40,273.81 602.70,276.23 603.00,278.25 603.30,279.67 603.60,276.78 603.90,279.55 604.20,282.33 604.50,283.82 604.80,284.72 605.10,286.65 605.40,290.96" fill="none" stroke="#111" stroke-width="1.35" stroke-linejoin="round" />
<polyline points="369.00,360.68 369.30,362.03 369.60,362.32 369.90,359.48 370.20,359.78 370.50,362.13 370.80,354.93 371.10,358.46 371.40,362.21 371.70,355.58 372.00,360.85 372.30,358.65 372.60,365.19 372.90,359.74 373.20,356.58 373.50,360.08 373.80,358.95 374.10,361.30 374.40,355.68 374.70,359.18 375.00,356.39 375.30,356.91 375.60,357.46 375.90,357.20 376.20,358.03 376.50,355.81 376.80,356.72 377.10,358.38 377.40,353.76 377.70,354.42 378.00,357.04 378.30,355.82 378.60,358.61 378.90,356.85 379.20,356.57 379.50,355.93 379.80,357.21 380.10,355.08 380.40,358.72 380.70,354.72 381.00,357.73 381.30,355.10 381.60,356.92 381.90,356.43 382.20,349.82 382.50,357.10 382.80,355.28 383.10,354.25 383.40,356.59 383.70,353.29 384.00,353.95 384.30,355.34 384.60,354.22 384.90,357.03 385.20,352.74 385.50,354.42 385.80,353.53 386.10,353.11 386.40,352.22 386.70,352.58 387.00,352.61 387.30,355.59 387.60,353.18 387.90,355.97 388.20,355.81 388.50,353.36 388.80,356.19 389.10,354.47 389.40,354.43 389.70,353.13 390.00,355.18 390.30,355.13 390.60,350.68 390.90,354.35 391.20,356.62 391.50,351.11 391.80,351.30 392.10,353.38 392.40,355.51 392.70,354.85 393.00,352.78 393.30,350.02 393.60,351.50 393.90,351.23 394.20,359.37 394.50,354.27 394.80,352.94 395.10,353.25 395.40,352.93 395.70,352.97 396.00,353.43 396.30,348.28 396.60,348.53 396.90,351.16 397.20,347.60 397.50,352.14 397.80,347.79 398.10,351.44 398.40,351.10 398.70,345.33 399.00,351.28 399.30,352.15 399.60,346.57 399.90,348.67 400.20,351.83 400.50,348.78 400.80,352.87 401.10,352.02 401.40,346.60 401.70,351.71 402.00,352.69 402.30,350.00 402.60,350.35 402.90,353.23 403.20,347.12 403.50,343.45 403.80,352.96 404.10,349.78 404.40,353.32 404.70,346.58 405.00,352.15 405.30,349.79 405.60,350.53 405.90,351.19 406.20,350.32 406.50,346.88 406.80,350.13 407.10,351.01 407.40,352.27 407.70,352.45 408.00,348.12 408.30,351.70 408.60,351.01 408.90,349.23 409.20,351.03 409.50,346.67 409.80,354.07 410.10,347.63 410.40,347.42 410.70,348.22 411.00,347.88 411.30,348.86 411.60,348.73 411.90,351.14 412.20,352.42 412.50,349.62 412.80,349.05 413.10,344.68 413.40,346.97 413.70,349.76 414.00,349.95 414.30,343.45 414.60,348.31 414.90,349.97 415.20,341.61 415.50,347.32 415.80,347.78 416.10,351.49 416.40,348.93 416.70,349.59 417.00,344.05 417.30,343.02 417.60,345.13 417.90,347.90 418.20,348.44 418.50,345.64 418.80,351.96 419.10,342.62 419.40,343.63 419.70,347.09 420.00,349.12 420.30,344.98 420.60,350.90 420.90,346.44 421.20,347.64 421.50,347.95 421.80,345.58 422.10,343.55 422.40,341.87 422.70,347.96 423.00,343.79 423.30,343.78 423.60,344.32 423.90,345.90 424.20,345.81 424.50,342.12 424.80,343.61 425.10,343.36 425.40,345.60 425.70,342.70 426.00,343.42 426.30,346.50 426.60,341.62 426.90,342.23 427.20,342.83 427.50,341.94 427.80,345.73 428.10,343.70 428.40,343.21 428.70,344.14 429.00,343.50 429.30,347.63 429.60,344.33 429.90,344.13 430.20,349.82 430.50,343.98 430.80,342.37 431.10,342.82 431.40,347.92 431.70,345.18 432.00,341.52 432.30,347.09 432.60,339.38 432.90,344.47 433.20,342.70 433.50,344.44 433.80,341.37 434.10,346.85 434.40,346.32 434.70,343.51 435.00,342.95 435.30,345.85 435.60,344.74 435.90,341.01 436.20,341.79 436.50,345.41 436.80,340.72 437.10,345.16 437.40,344.62 437.70,344.16 438.00,339.76 438.30,341.56 438.60,341.20 438.90,338.86 439.20,345.91 439.50,344.85 439.80,341.60 440.10,338.33 440.40,346.14 440.70,338.02 441.00,341.43 441.30,338.01 441.60,341.24 441.90,343.67 442.20,338.08 442.50,345.43 442.80,340.02 443.10,343.32 443.40,344.65 443.70,342.54 444.00,340.83 444.30,340.30 444.60,340.14 444.90,339.87 445.20,341.40 445.50,340.59 445.80,339.80 446.10,341.14 446.40,344.17 446.70,344.14 447.00,339.65 447.30,342.13 447.60,338.87 447.90,346.40 448.20,341.03 448.50,338.67 448.80,346.29 449.10,339.04 449.40,344.93 449.70,340.74 450.00,339.75 450.30,339.68 450.60,340.25 450.90,337.79 451.20,343.32 451.50,343.70 451.80,339.28 452.10,340.98 452.40,341.09 452.70,340.29 453.00,342.17 453.30,342.05 453.60,340.23 453.90,340.79 454.20,338.89 454.50,340.04 454.80,343.01 455.10,346.61 455.40,339.62 455.70,338.45 456.00,341.29 456.30,340.42 456.60,340.82 456.90,335.62 457.20,346.93 457.50,344.28 457.80,343.63 458.10,344.90 458.40,338.78 458.70,343.88 459.00,337.17 459.30,338.80 459.60,342.60 459.90,343.30 460.20,342.58 460.50,345.40 460.80,339.01 461.10,342.26 461.40,338.61 461.70,336.35 462.00,339.00 462.30,340.80 462.60,340.78 462.90,341.19 463.20,337.89 463.50,336.21 463.80,339.52 464.10,339.70 464.40,342.00 464.70,342.46 465.00,344.99 465.30,340.44 465.60,340.11 465.90,341.59 466.20,343.64 466.50,340.55 466.80,335.88 467.10,339.02 467.40,336.95 467.70,336.19 468.00,340.27 468.30,343.04 468.60,339.57 468.90,334.34 469.20,338.37 469.50,341.78 469.80,341.04 470.10,340.35 470.40,339.79 470.70,338.36 471.00,339.67 471.30,345.13 471.60,342.77 471.90,338.76 472.20,336.81 472.50,342.46 472.80,335.34 473.10,338.56 473.40,335.85 473.70,335.29 474.00,338.12 474.30,338.69 474.60,338.04 474.90,341.33 475.20,335.05 475.50,339.91 475.80,341.41 476.10,338.10 476.40,336.51 476.70,344.36 477.00,340.52 477.30,348.04 477.60,341.98 477.90,345.25 478.20,341.94 478.50,339.28 478.80,338.86 479.10,340.56 479.40,339.21 479.70,339.49 480.00,341.49 480.30,343.99 480.60,344.23 480.90,341.65 481.20,339.98 481.50,341.27 481.80,344.08 482.10,342.28 482.40,347.02 482.70,342.20 483.00,344.27 483.30,339.81 483.60,341.25 483.90,346.96 484.20,340.23 484.50,340.15 484.80,344.24 485.10,343.43 485.40,341.42 485.70,348.44 486.00,345.78 486.30,344.32 486.60,341.90 486.90,341.41 487.20,346.28 487.50,343.69 487.80,340.43 488.10,344.37 488.40,342.98 488.70,341.86 489.00,340.86 489.30,345.64 489.60,341.53 489.90,342.75 490.20,345.75 490.50,344.04 490.80,343.33 491.10,341.90 491.40,344.60 491.70,341.18 492.00,339.07 492.30,341.84 492.60,343.70 492.90,342.53 493.20,335.89 493.50,343.17 493.80,345.05 494.10,343.17 494.40,345.34 494.70,345.35 495.00,343.54 495.30,342.37 495.60,342.39 495.90,337.81 496.20,336.99 496.50,340.85 496.80,337.40 497.10,340.18 497.40,345.46 497.70,342.64 498.00,340.01 498.30,342.04 498.60,340.24 498.90,336.67 499.20,341.49 499.50,341.08 499.80,339.56 500.10,337.88 500.40,340.89 500.70,340.05 501.00,338.16 501.30,339.54 501.60,342.29 501.90,342.36 502.20,339.74 502.50,338.27 502.80,336.22 503.10,338.77 503.40,340.75 503.70,341.29 504.00,333.10 504.30,333.77 504.60,342.68 504.90,341.00 505.20,340.91 505.50,338.72 505.80,342.01 506.10,341.98 506.40,335.56 506.70,336.69 507.00,341.73 507.30,339.97 507.60,343.74 507.90,337.56 508.20,342.75 508.50,338.28 508.80,341.46 509.10,341.84 509.40,337.70 509.70,338.61 510.00,341.25 510.30,338.99 510.60,335.51 510.90,339.42 511.20,341.72 511.50,340.04 511.80,337.47 512.10,338.38 512.40,340.82 512.70,340.64 513.00,341.76 513.30,334.61 513.60,336.53 513.90,336.24 514.20,341.85 514.50,343.60 514.80,330.54 515.10,339.60 515.40,337.84 515.70,336.12 516.00,341.41 516.30,335.43 516.60,339.88 516.90,335.61 517.20,342.23 517.50,337.68 517.80,337.60 518.10,334.64 518.40,338.32 518.70,342.11 519.00,341.28 519.30,339.16 519.60,337.47 519.90,330.38 520.20,335.24 520.50,338.11 520.80,336.90 521.10,338.75 521.40,336.94 521.70,339.14 522.00,337.60 522.30,341.40 522.60,338.82 522.90,337.41 523.20,338.41 523.50,336.76 523.80,340.08 524.10,337.83 524.40,340.60 524.70,340.57 525.00,341.57 525.30,341.04 525.60,336.48 525.90,341.98 526.20,338.21 526.50,340.03 526.80,335.48 527.10,342.09 527.40,339.30 527.70,337.56 528.00,336.28 528.30,336.28 528.60,337.38 528.90,337.03 529.20,341.05 529.50,339.84 529.80,338.02 530.10,337.78 530.40,336.88 530.70,339.24 531.00,341.85 531.30,335.12 531.60,339.38 531.90,339.01 532.20,340.05 532.50,335.90 532.80,338.10 533.10,340.36 533.40,341.96 533.70,340.30 534.00,336.63 534.30,339.28 534.60,335.68 534.90,335.80 535.20,338.74 535.50,335.93 535.80,340.06 536.10,335.63 536.40,336.89 536.70,334.52 537.00,338.66 537.30,336.19 537.60,338.06 537.90,337.22 538.20,332.77 538.50,330.43 538.80,333.77 539.10,332.42 539.40,335.92 539.70,338.70 540.00,338.69 540.30,337.54 540.60,337.31 540.90,331.12 541.20,335.12 541.50,334.33 541.80,332.46 542.10,332.09 542.40,330.66 542.70,333.00 543.00,330.49 543.30,340.52 543.60,330.14 543.90,325.33 544.20,338.43 544.50,327.57 544.80,331.36 545.10,330.96 545.40,331.71 545.70,331.62 546.00,327.06 546.30,334.55 546.60,332.59 546.90,326.43 547.20,327.56 547.50,333.85 547.80,331.74 548.10,334.80 548.40,330.53 548.70,332.75 549.00,333.01 549.30,328.10 549.60,332.91 549.90,333.28 550.20,328.39 550.50,328.89 550.80,332.39 551.10,331.78 551.40,331.89 551.70,328.74 552.00,327.76 552.30,329.40 552.60,332.93 552.90,332.95 553.20,330.67 553.50,329.62 553.80,331.71 554.10,329.42 554.40,329.80 554.70,331.81 555.00,332.86 555.30,334.64 555.60,335.23 555.90,335.38 556.20,332.13 556.50,332.56 556.80,335.58 557.10,330.84 557.40,332.11 557.70,330.07 558.00,332.61 558.30,334.67 558.60,333.86 558.90,331.33 559.20,334.69 559.50,334.98 559.80,335.32 560.10,337.45 560.40,331.87 560.70,334.37 561.00,336.92 561.30,338.71 561.60,334.19 561.90,334.54 562.20,336.19 562.50,334.31 562.80,333.24 563.10,335.71 563.40,336.36 563.70,339.62 564.00,333.88 564.30,331.63 564.60,336.81 564.90,335.72 565.20,334.81 565.50,332.23 565.80,332.77 566.10,336.33 566.40,329.92 566.70,335.56 567.00,332.98 567.30,338.52 567.60,331.17 567.90,331.28 568.20,334.27 568.50,333.69 568.80,328.93 569.10,333.42 569.40,329.74 569.70,335.13 570.00,334.32 570.30,331.09 570.60,334.23 570.90,335.11 571.20,337.27 571.50,334.33 571.80,330.62 572.10,333.34 572.40,331.73 572.70,334.44 573.00,334.29 573.30,330.36 573.60,332.48 573.90,332.93 574.20,333.74 574.50,324.45 574.80,332.92 575.10,330.03 575.40,331.93 575.70,338.56 576.00,335.37 576.30,333.06 576.60,333.85 576.90,334.73 577.20,338.77 577.50,335.42 577.80,334.45 578.10,336.35 578.40,339.57 578.70,339.29 579.00,338.12 579.30,334.20 579.60,339.03 579.90,335.46 580.20,336.94 580.50,338.65 580.80,342.28 581.10,337.54 581.40,342.29 581.70,337.64 582.00,334.45 582.30,340.12 582.60,334.62 582.90,337.26 583.20,339.29 583.50,338.26 583.80,337.17 584.10,341.66 584.40,336.49 584.70,336.67 585.00,337.54 585.30,340.31 585.60,337.68 585.90,340.28 586.20,338.89 586.50,339.29 586.80,343.81 587.10,337.86 587.40,340.00 587.70,338.20 588.00,336.38 588.30,340.72 588.60,336.50 588.90,339.11 589.20,340.54 589.50,338.42 589.80,342.76 590.10,338.24 590.40,340.36 590.70,338.71 591.00,341.46 591.30,342.50 591.60,343.99 591.90,340.21 592.20,344.34 592.50,341.33 592.80,336.78 593.10,340.50 593.40,342.42 593.70,343.31 594.00,337.16 594.30,339.67 594.60,346.02 594.90,345.63 595.20,334.95 595.50,342.19 595.80,345.20 596.10,339.38 596.40,336.53 596.70,341.96 597.00,341.63 597.30,340.44 597.60,344.34 597.90,342.51 598.20,345.06 598.50,350.65 598.80,341.83 599.10,348.23 599.40,344.30 599.70,342.55 600.00,345.56 600.30,342.38 600.60,342.99 600.90,350.18 601.20,345.22 601.50,347.57 601.80,344.04 602.10,340.07 602.40,342.31 602.70,346.07 603.00,345.68 603.30,351.26 603.60,350.42 603.90,350.89 604.20,349.81 604.50,352.90 604.80,351.56 605.10,353.52 605.40,354.38" fill="none" stroke="#dd1111" stroke-width="1.4" stroke-linejoin="round" />
<rect x="374.7" y="231.7" width="44.6" height="21.6" fill="#fff" stroke="#8a8a8a" stroke-width="0.8"/>
<line x1="376.00" y1="237.10" x2="396.80" y2="237.10" stroke="#111" stroke-width="1.3" />
<line x1="376.00" y1="247.60" x2="396.80" y2="247.60" stroke="#dd1111" stroke-width="1.3" />
<text x="398.90" y="240.40" font-size="9.7" text-anchor="start" font-weight="normal" fill="#222" stroke="#222" stroke-width="0.22" >SHG</text>
<text x="398.90" y="251.10" font-size="9.7" text-anchor="start" font-weight="normal" fill="#222" stroke="#222" stroke-width="0.22" >THG</text>
<ellipse cx="412.5" cy="281" rx="8.3" ry="17.2" fill="none" stroke="#111" stroke-width="1.2" transform="rotate(4 412.5 281)"/>
<line x1="414.50" y1="264.20" x2="384.20" y2="264.20" stroke="#111" stroke-width="1.2" />
<polyline points="388.5,261.2 384.0,264.2 388.5,267.2" fill="none" stroke="#111" stroke-width="1.2"/>
<ellipse cx="553.2" cy="331" rx="8.4" ry="16.9" fill="none" stroke="#dd1111" stroke-width="1.2" transform="rotate(0 553.2 331)"/>
<line x1="552.40" y1="314.10" x2="582.60" y2="314.10" stroke="#dd1111" stroke-width="1.2" />
<polyline points="578.2,311.1 582.8,314.1 578.2,317.1" fill="none" stroke="#dd1111" stroke-width="1.2"/>
<text transform="translate(320.60,322.30) rotate(-90)" x="0" y="4.76" font-size="13.6" text-anchor="middle" font-weight="bold" fill="#111" stroke="#111" stroke-width="0.12">Output Power (mW)</text>
<text x="502.30" y="427.00" font-size="13.3" text-anchor="middle" font-weight="bold" fill="#111" stroke="#111" stroke-width="0.12" >Pump Wavelength (nm)</text>
<text x="311.50" y="232.20" font-size="18.5" text-anchor="start" font-weight="normal" fill="#111" stroke="#111" stroke-width="0" >(d)</text>
</svg>
</body></html>
